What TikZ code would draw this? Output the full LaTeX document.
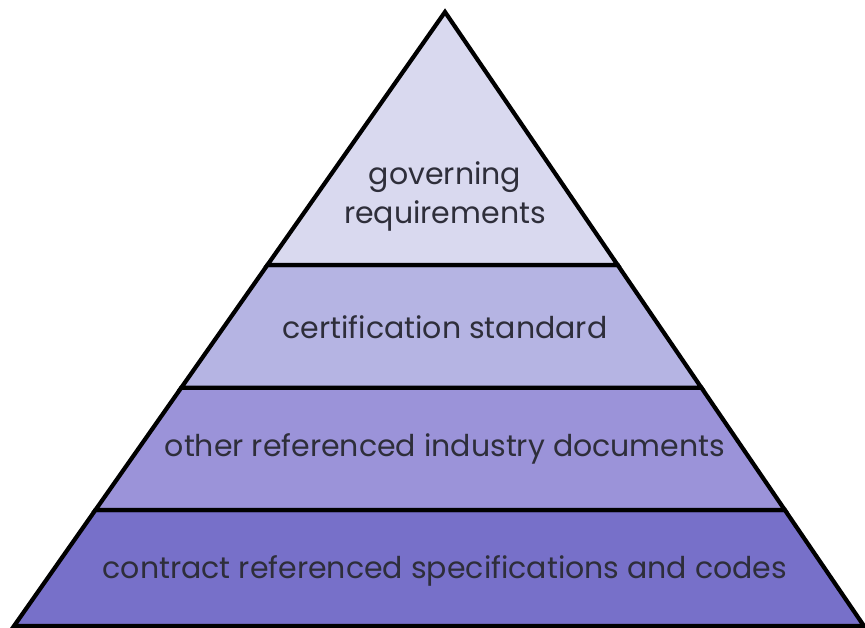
\documentclass[tikz,border=0pt]{standalone}
\usepackage{xcolor}
\usepackage{fontspec}
\setmainfont{Poppins}
\usetikzlibrary{calc}

\definecolor{layerA}{HTML}{D9D9EF}
\definecolor{layerB}{HTML}{B5B4E3}
\definecolor{layerC}{HTML}{9B93D9}
\definecolor{layerD}{HTML}{7770C9}
\definecolor{labeltext}{HTML}{2E2E3A}

\begin{document}
\begin{tikzpicture}[x=1pt,y=-1pt,
	band/.style={draw=black, line width=4.2pt, line join=miter},
	bandlabel/.style={text=labeltext, font=\fontsize{30}{39}\selectfont, align=center, inner sep=0pt}
	]
	% We will draw the pyramid here
	\useasboundingbox (0,0) rectangle (865,628);
	
	\coordinate (apex) at (445,12);
	\coordinate (bl) at (14,626);
	\coordinate (br) at (864,626);
	
	\coordinate (l1) at ($(apex)!0.412!(bl)$);
	\coordinate (r1) at ($(apex)!0.412!(br)$);
	\coordinate (l2) at ($(apex)!0.612!(bl)$);
	\coordinate (r2) at ($(apex)!0.612!(br)$);
	\coordinate (l3) at ($(apex)!0.811!(bl)$);
	\coordinate (r3) at ($(apex)!0.811!(br)$);
	
	\filldraw[band, fill=layerD] (l3) -- (r3) -- (br) -- (bl) -- cycle;
	\filldraw[band, fill=layerC] (l2) -- (r2) -- (r3) -- (l3) -- cycle;
	\filldraw[band, fill=layerB] (l1) -- (r1) -- (r2) -- (l2) -- cycle;
	\filldraw[band, fill=layerA] (apex) -- (r1) -- (l1) -- cycle;
	
	\node[bandlabel] (governing) at (445,196) {governing\\requirements};
	\node[bandlabel] (certification) at (445,327) {certification standard};
	\node[bandlabel] (industry) at (445,449) {other referenced industry documents};
	\node[bandlabel] (contract) at (445,571) {contract referenced specifications and codes};
	
\end{tikzpicture}
\end{document}
